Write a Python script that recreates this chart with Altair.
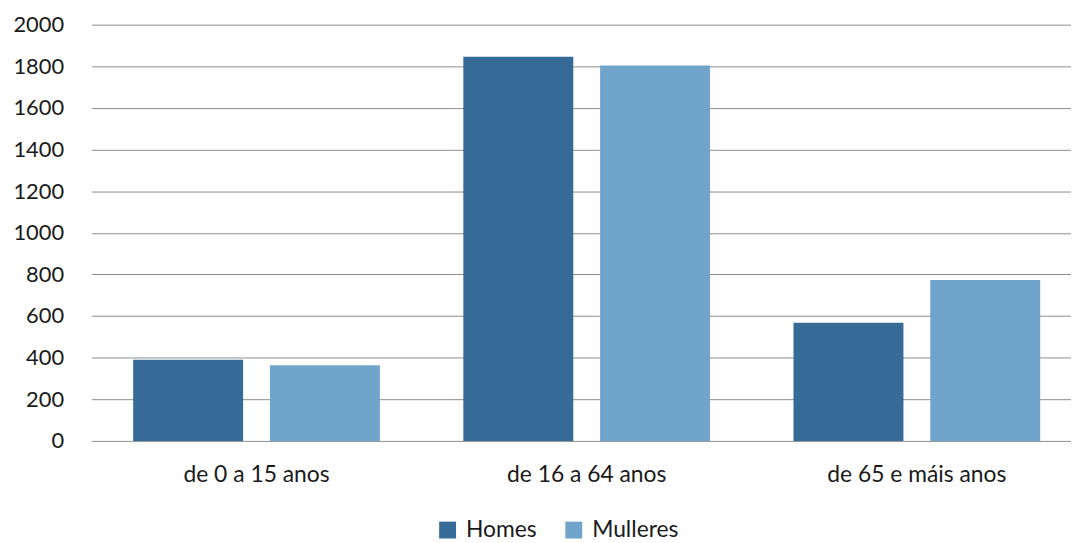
import altair as alt
import pandas as pd

categories = ["de 0 a 15 anos", "de 16 a 64 anos", "de 65 e máis anos"]
series = ["Homes", "Mulleres"]
homes = [390, 1846, 568]
mulleres = [363, 1804, 773]
y_ticks = [0, 200, 400, 600, 800, 1000, 1200, 1400, 1600, 1800, 2000]
colors = ["#366A97", "#70A4CB"]

rows = []
for i, c in enumerate(categories):
    rows.append({"cat": c, "serie": "Homes", "valor": homes[i]})
    rows.append({"cat": c, "serie": "Mulleres", "valor": mulleres[i]})
df = pd.DataFrame(rows)

FONT = "Lato"

bars = alt.Chart(df).mark_bar().encode(
    x=alt.X(
        "cat:N",
        sort=categories,
        title=None,
        scale=alt.Scale(range=[0, 997], paddingInner=0, paddingOuter=0),
        axis=alt.Axis(
            labelAngle=0,
            labelFontSize=23,
            labelFont=FONT,
            labelColor="#1a1a1a",
            labelPadding=23,
            labelLimit=400,
            labelOverlap=False,
            ticks=False,
            domain=False,
            grid=False,
        ),
    ),
    xOffset=alt.XOffset(
        "serie:N",
        sort=series,
        scale=alt.Scale(paddingInner=0.196, paddingOuter=0.305),
    ),
    y=alt.Y(
        "valor:Q",
        title=None,
        scale=alt.Scale(domain=[0, 2000], nice=False),
        axis=alt.Axis(
            values=y_ticks,
            format="d",
            labelFontSize=22,
            labelFont=FONT,
            labelColor="#1a1a1a",
            labelPadding=28,
            ticks=False,
            domain=False,
            grid=True,
            gridColor="#8c8c8c",
            gridWidth=1,
        ),
    ),
    color=alt.Color(
        "serie:N",
        sort=series,
        scale=alt.Scale(domain=series, range=colors),
        legend=alt.Legend(
            title=None,
            orient="none",
            legendX=347,
            legendY=497,
            direction="horizontal",
            symbolType="square",
            symbolSize=289,
            symbolStrokeWidth=0,
            labelFontSize=23,
            labelFont=FONT,
            labelColor="#1a1a1a",
            labelOffset=7,
            columnPadding=25,
            padding=0,
        ),
    ),
)

chart = (
    bars
    .properties(
        width=986,
        height=419,
        padding={"left": 84, "top": 15, "right": 0, "bottom": 100},
        autosize=alt.AutoSizeParams(type="none"),
        background="white",
    )
    .configure_view(stroke=None)
)

chart.save("out.html", embed_options={"renderer": "svg", "actions": False})
